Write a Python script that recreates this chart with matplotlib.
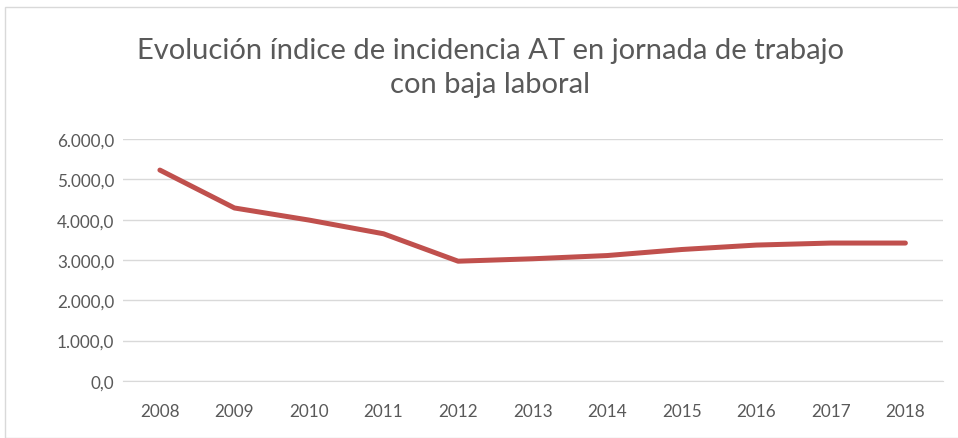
import matplotlib.pyplot as plt
from matplotlib.patches import Rectangle
from matplotlib.ticker import FuncFormatter

# data
years = ['2008', '2009', '2010', '2011', '2012', '2013', '2014', '2015', '2016', '2017', '2018']
incidence = [5230, 4290, 3990, 3650, 2970, 3030, 3110, 3260, 3370, 3420, 3420]

title = 'Evolución índice de incidencia AT en jornada de trabajo\ncon baja laboral'

plt.rcParams['font.family'] = ['Lato', 'DejaVu Sans']
grey = '#595959'

fig = plt.figure(figsize=(9.58, 4.39), dpi=100)
ax = fig.add_axes([0.128, 0.130, 0.856, 0.551])

# outer frame
fig.patches.append(Rectangle((5 / 958, 0.0), 1.2, 1 - 8 / 439, transform=fig.transFigure,
                             fill=False, edgecolor='#D9D9D9', linewidth=1))

x = range(len(years))
ax.plot(x, incidence, color='#C0504D', linewidth=3.6, solid_capstyle='round', solid_joinstyle='round')

ax.set_xlim(-0.5, len(years) - 0.5)
ax.set_ylim(0, 6000)
ax.set_yticks(range(0, 6001, 1000))
ax.yaxis.set_major_formatter(FuncFormatter(lambda v, p: f'{v:,.1f}'.replace(',', 'X').replace('.', ',').replace('X', '.')))
ax.set_xticks(list(x))
ax.set_xticklabels(years)

ax.grid(axis='y', color='#D9D9D9', linewidth=1)
ax.set_axisbelow(True)
for s in ['top', 'right', 'left']:
    ax.spines[s].set_visible(False)
ax.spines['bottom'].set_color('#D9D9D9')
ax.tick_params(length=0, labelsize=12.3, labelcolor=grey)
ax.tick_params(axis='y', pad=6)
ax.tick_params(axis='x', pad=16)

fig.text(0.512, 0.845, title, ha='center', va='center', fontsize=21, color=grey, linespacing=1.38)

fig.savefig('out.png', dpi=100)
